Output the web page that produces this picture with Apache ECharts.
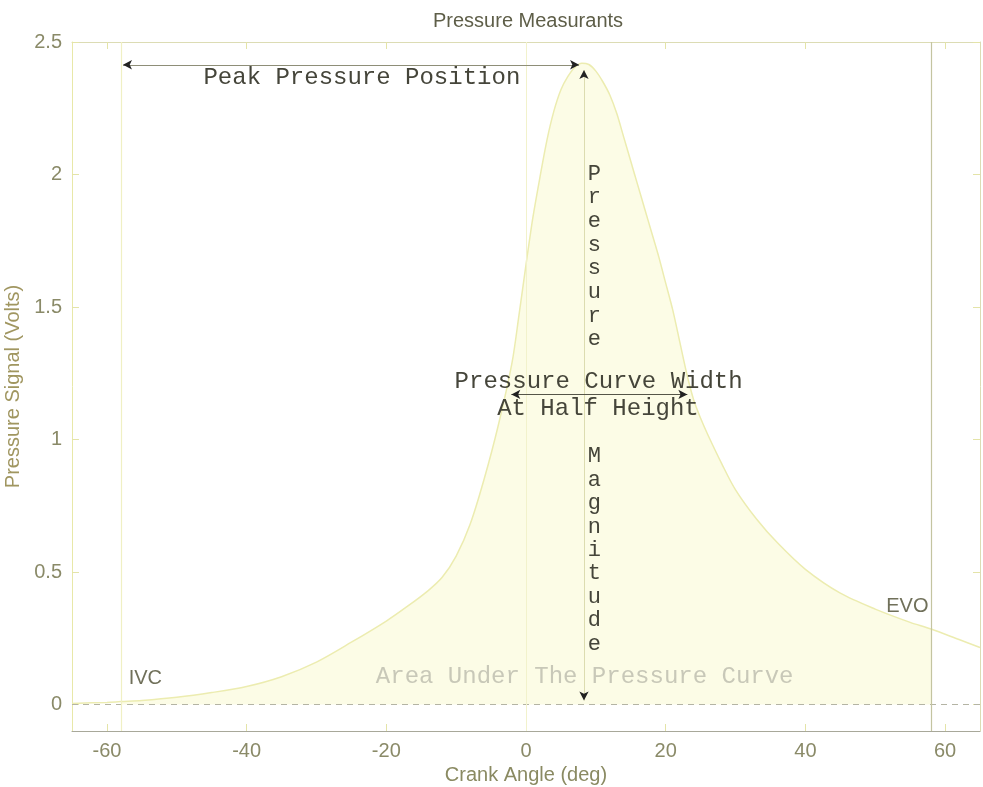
<!DOCTYPE html>
<html>
<head>
<meta charset="utf-8">
<script src="https://cdn.jsdelivr.net/npm/echarts@6/dist/echarts.min.js"></script>
<style>html,body{margin:0;padding:0;background:#fff}#c{width:983px;height:787px}</style>
</head>
<body>
<div id="c"></div>
<script>
// Crank angle (deg) and pressure signal (V)
const angles = [-65,-60,-58,-55,-50,-45,-40,-35,-30,-25,-20,-17,-14,-12,-10,-8,-6,-4,-2,-1,0,1,2,3,4,5,6,7,8,9,10,11,12,13,14,15,16,17,18,19,20,21,22,23,24,25,26,28,30,33,36,40,45,50,55,58,62,65];
const volts  = [0.004,0.008,0.011,0.015,0.027,0.045,0.068,0.105,0.16,0.235,0.315,0.37,0.43,0.48,0.56,0.68,0.85,1.05,1.29,1.47,1.66,1.84,1.99,2.13,2.24,2.32,2.37,2.405,2.42,2.415,2.39,2.35,2.30,2.23,2.14,2.05,1.96,1.87,1.78,1.69,1.59,1.49,1.37,1.25,1.15,1.08,1.02,0.91,0.81,0.70,0.61,0.51,0.42,0.36,0.31,0.285,0.245,0.215];
const xTicks = [-60,-40,-20,0,20,40,60];
const yTicks = [0,0.5,1,1.5,2,2.5];
const IVC = -58, EVO = 58;
const peakX = 8.3, peakY = 2.414;
const halfY = 1.17, halfLeft = -2.1, halfRight = 23.1;

const curve = angles.map((a,i)=>[a,volts[i]]);
const filled = curve.filter(p=>p[0]>=IVC && p[0]<=EVO);

const mono = 'Liberation Mono, Courier New, monospace';
const sans = 'Liberation Sans, Arial, sans-serif';
const lblColor = '#8a8a68';
const monoColor = '#45453a';

function txt(coord, text, style){
  return {coord, symbol:'circle', symbolSize:1, itemStyle:{color:'rgba(0,0,0,0)'},
    label:Object.assign({show:true, formatter:text, position:'inside', align:'center', verticalAlign:'middle'}, style)};
}

const chart = echarts.init(document.getElementById('c'), null, {renderer:'canvas'});
chart.setOption({
  animation:false,
  backgroundColor:'#ffffff',
  title:{text:'Pressure Measurants', left:428, top:6, textStyle:{fontFamily:sans, fontWeight:'normal', fontSize:20, color:'#5e5e48'}},
  grid:{left:72, right:3, top:42, bottom:56, containLabel:false, outerBoundsMode:'none'},
  xAxis:[{
    type:'value', min:-65, max:65,
    name:'Crank Angle (deg)', nameLocation:'middle', nameGap:31,
    nameTextStyle:{fontFamily:sans, fontSize:20, color:'#8a8a62'},
    axisLine:{show:true, onZero:false, lineStyle:{color:'#a8a89a', width:1}},
    axisTick:{show:true, inside:true, length:7, lineStyle:{color:'#e4e4a8'}, customValues:xTicks},
    axisLabel:{customValues:xTicks, fontFamily:sans, fontSize:20, color:lblColor, margin:10},
    splitLine:{show:false}
  },{
    type:'value', min:-65, max:65, position:'top',
    axisLine:{show:true, onZero:false, lineStyle:{color:'#dcdcb4', width:1}},
    axisTick:{show:true, inside:true, length:7, lineStyle:{color:'#e4e4a8'}, customValues:xTicks},
    axisLabel:{show:false}, splitLine:{show:false}
  }],
  yAxis:[{
    type:'value', min:-0.1, max:2.5,
    name:'Pressure Signal (Volts)', nameLocation:'middle', nameGap:35,
    nameTextStyle:{fontFamily:sans, fontSize:20, color:'#a09660'},
    axisLine:{show:true, onZero:false, lineStyle:{color:'#e8e8a8', width:1}},
    axisTick:{show:true, inside:true, length:7, lineStyle:{color:'#e4e4a8'}, customValues:yTicks},
    axisLabel:{customValues:yTicks, fontFamily:sans, fontSize:20, color:lblColor, margin:10},
    splitLine:{show:false}
  },{
    type:'value', min:-0.1, max:2.5, position:'right',
    axisLine:{show:true, onZero:false, lineStyle:{color:'#dcdcb4', width:1}},
    axisTick:{show:true, inside:true, length:7, lineStyle:{color:'#e4e4a8'}, customValues:yTicks},
    axisLabel:{show:false}, splitLine:{show:false}
  }],
  series:[
    {
      type:'line', data:filled, showSymbol:false, smooth:0.3,
      lineStyle:{width:0}, areaStyle:{color:'#fbfbdc', origin:0}, z:1, silent:true
    },
    {
      type:'line', data:curve, showSymbol:false, smooth:0.3,
      lineStyle:{color:'#ececb0', width:1.5}, z:2, silent:true,
      markLine:{
        silent:true, animation:false, symbol:['none','none'], label:{show:false},
        data:[
          [{coord:[-65,0], lineStyle:{color:'#b4b4a4', type:[6,5], width:1}},{coord:[65,0]}],
          [{coord:[IVC,-0.1], lineStyle:{color:'#f0f0c4', type:'solid', width:1.2}},{coord:[IVC,2.5]}],
          [{coord:[EVO,-0.1], lineStyle:{color:'#c4c4a0', type:'solid', width:1.2}},{coord:[EVO,2.5]}],
          [{coord:[0,-0.1], lineStyle:{color:'#f2f2cc', type:'solid', width:1}},{coord:[0,2.5]}],
          [{coord:[IVC+0.3,peakY], lineStyle:{color:'#8e8e78', type:'solid', width:1}},{coord:[peakX-0.7,peakY]}],
          [{coord:[peakX,peakY-0.02], lineStyle:{color:'#dcdcb0', type:'solid', width:1}},{coord:[peakX,0.015]}],
          [{coord:[halfLeft,halfY], lineStyle:{color:'#555548', type:'solid', width:1}},{coord:[halfRight,halfY]}],
          [{coord:[IVC+0.3,peakY], symbol:'arrow', symbolSize:[7,9], lineStyle:{color:'#222', width:0}},{coord:[peakX-0.7,peakY], symbol:'arrow', symbolSize:[7,9]}],
          [{coord:[peakX,peakY-0.02], symbol:'arrow', symbolSize:[7,9], lineStyle:{color:'#222', width:0}},{coord:[peakX,0.015], symbol:'arrow', symbolSize:[7,9]}],
          [{coord:[halfLeft,halfY], symbol:'arrow', symbolSize:[7,9], lineStyle:{color:'#222', width:0}},{coord:[halfRight,halfY], symbol:'arrow', symbolSize:[7,9]}]
        ]
      },
      markPoint:{
        silent:true, animation:false,
        data:[
          txt([-23.5,2.365], 'Peak Pressure Position', {fontFamily:mono, fontSize:24, color:monoColor}),
          txt([10.4,1.22], 'Pressure Curve Width', {fontFamily:mono, fontSize:24, color:monoColor}),
          txt([10.3,1.115], 'At Half Height', {fontFamily:mono, fontSize:24, color:monoColor}),
          txt([9.8,1.69], 'P\nr\ne\ns\ns\nu\nr\ne', {fontFamily:mono, fontSize:22, lineHeight:23.7, color:monoColor}),
          txt([9.8,0.582], 'M\na\ng\nn\ni\nt\nu\nd\ne', {fontFamily:mono, fontSize:22, lineHeight:23.4, color:monoColor}),
          txt([8.4,0.104], 'Area Under The Pressure Curve', {fontFamily:mono, fontSize:24, color:'#c8c8b8'}),
          txt([-54.5,0.1], 'IVC', {fontFamily:sans, fontSize:20, color:'#70705a'}),
          txt([54.6,0.368], 'EVO', {fontFamily:sans, fontSize:20, color:'#70705a'})
        ]
      }
    }
  ]
});
</script>
</body>
</html>
